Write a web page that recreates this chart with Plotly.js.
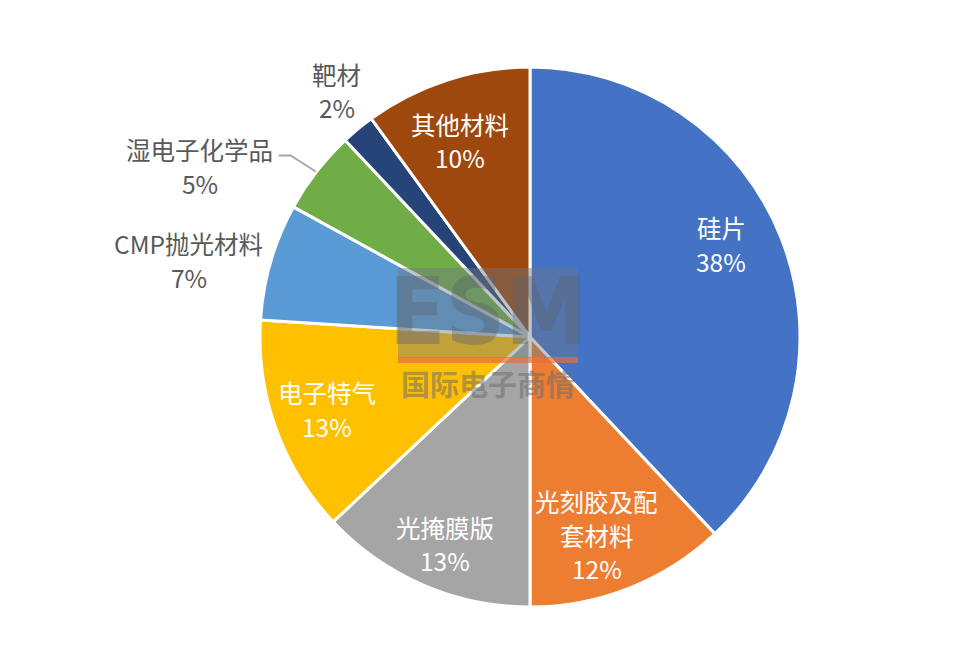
<!DOCTYPE html>
<html>
<head>
<meta charset="utf-8">
<script src="https://cdn.plot.ly/plotly-3.0.1.min.js"></script>
<style>html,body{margin:0;padding:0;background:#fff;}#chart{width:976px;height:669px;}</style>
</head>
<body>
<div id="chart"></div>
<script>
// ---- data ----
const categories = ['硅片', '光刻胶及配套材料', '光掩膜版', '电子特气', 'CMP抛光材料', '湿电子化学品', '靶材', '其他材料'];
const shares = [38, 12, 13, 13, 7, 5, 2, 10];
// label lines as shown (name wrapped where the chart wraps it)
const labelLines = [['硅片'], ['光刻胶及配', '套材料'], ['光掩膜版'], ['电子特气'], ['CMP抛光材料'], ['湿电子化学品'], ['靶材'], ['其他材料']];

// ---- style ----
const colors = ['#4472C4', '#ED7D31', '#A5A5A5', '#FFC000', '#5B9BD5', '#70AD47', '#264478', '#9E480E'];
const inside = [true, true, true, true, false, false, false, true];
// inside labels: nudge (px) from point at 0.79R on bisector; outside: offset (px) from rim point on bisector
const labelNudge = [[-7, -14], [-12, 0], [0, 11], [-2, 0], [-82, -1], [-117, -5], [-21, -38], [-4, 7]];

const W = 976, H = 669;
const CX = 530, CY = 337, R = 270;
const FONT = '"Noto Sans CJK SC", "Noto Sans", sans-serif';
const FS = 24.5, LINE = 33.5;
const px = x => x / W, py = y => 1 - y / H;

const trace = {
  type: 'pie',
  labels: categories,
  values: shares,
  textinfo: 'none',
  sort: false,
  direction: 'clockwise',
  rotation: 0,
  marker: {colors: colors, line: {color: '#FFFFFF', width: 3}},
  hoverinfo: 'label+percent',
  domain: {x: [px(CX - R), px(CX + R)], y: [py(CY + R), py(CY - R)]},
  showlegend: false
};

const total = shares.reduce((a, b) => a + b, 0);
const annotations = [];
const shapes = [];
let cum = 0;
shares.forEach((v, i) => {
  const theta = (cum + v / 2) / total * 2 * Math.PI;
  cum += v;
  const rr = inside[i] ? 0.79 * R : R;
  const bx = CX + rr * Math.sin(theta) + labelNudge[i][0];
  const by = CY - rr * Math.cos(theta) + labelNudge[i][1];
  const pct = Math.round(v / total * 100) + '%';
  const lines = labelLines[i].concat([pct]);
  const n = lines.length;
  lines.forEach((t, j) => {
    annotations.push({
      xref: 'paper', yref: 'paper', x: px(bx), y: py(by + (j - (n - 1) / 2) * LINE),
      text: t, showarrow: false, xanchor: 'center', yanchor: 'middle',
      font: {family: FONT, size: FS, color: inside[i] ? '#FFFFFF' : '#595959'}
    });
  });
  if (categories[i] === '湿电子化学品') {
    const ex = CX + R * Math.sin(theta) - 1, ey = CY - R * Math.cos(theta);
    shapes.push({
      type: 'path', xref: 'paper', yref: 'paper', layer: 'above',
      path: `M ${px(ex - 37)} ${py(ey - 16)} L ${px(ex - 25)} ${py(ey - 16)} L ${px(ex)} ${py(ey)}`,
      line: {color: '#A6A6A6', width: 1.8}
    });
  }
});

// watermark
shapes.push(
  {type: 'rect', xref: 'paper', yref: 'paper', x0: px(398), x1: px(578), y0: py(358), y1: py(268),
   fillcolor: 'rgba(110,120,130,0.42)', line: {width: 0}, layer: 'above'},
  {type: 'rect', xref: 'paper', yref: 'paper', x0: px(398), x1: px(578), y0: py(363), y1: py(357),
   fillcolor: 'rgba(230,110,60,0.7)', line: {width: 0}, layer: 'above'}
);
annotations.push(
  {xref: 'paper', yref: 'paper', x: px(488), y: py(312), text: '<b>ESM</b>', showarrow: false,
   font: {family: '"DejaVu Sans Condensed", sans-serif', size: 92, color: 'rgba(90,100,110,0.4)'}},
  {xref: 'paper', yref: 'paper', x: px(488), y: py(383), text: '<b>国际电子商情</b>', showarrow: false,
   font: {family: FONT, size: 29, color: 'rgba(110,110,110,0.55)'}}
);

const layout = {
  width: W, height: H,
  margin: {l: 0, r: 0, t: 0, b: 0},
  paper_bgcolor: '#FFFFFF',
  showlegend: false,
  shapes: shapes,
  annotations: annotations
};

Plotly.newPlot('chart', [trace], layout, {displayModeBar: false, staticPlot: true});
</script>
</body>
</html>
